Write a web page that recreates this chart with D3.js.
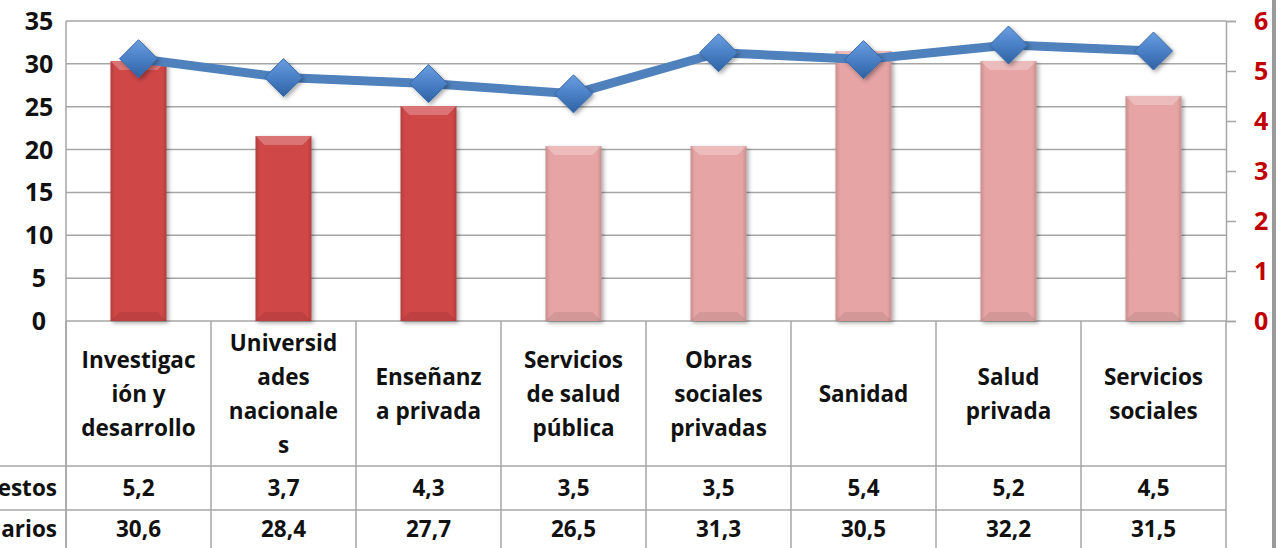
<!DOCTYPE html>
<html>
<head>
<meta charset="utf-8">
<script src="https://cdn.jsdelivr.net/npm/d3@7"></script>
<style>
  body { margin: 0; background: #fff; overflow: hidden; }
  text { font-family: "Open Sans", Lato, sans-serif; font-weight: 700; }
</style>
</head>
<body>
<svg id="chart" width="1282" height="548"></svg>
<script>
// categories and their wrapped labels
const categories = ["Investigación y desarrollo", "Universidades nacionales", "Enseñanza privada",
  "Servicios de salud pública", "Obras sociales privadas", "Sanidad", "Salud privada", "Servicios sociales"];
const categoryLines = [
  ["Investigac", "ión y", "desarrollo"],
  ["Universid", "ades", "nacionale", "s"],
  ["Enseñanz", "a privada"],
  ["Servicios", "de salud", "pública"],
  ["Obras", "sociales", "privadas"],
  ["Sanidad"],
  ["Salud", "privada"],
  ["Servicios", "sociales"]
];
const puestos = [5.2, 3.7, 4.3, 3.5, 3.5, 5.4, 5.2, 4.5];
const salarios = [30.6, 28.4, 27.7, 26.5, 31.3, 30.5, 32.2, 31.5];
const darkBar = [true, true, true, false, false, false, false, false];
const leftTicks = [0, 5, 10, 15, 20, 25, 30, 35];
const rightTicks = [0, 1, 2, 3, 4, 5, 6];
const rowNames = ["Puestos", "Salarios"];

const svg = d3.select("#chart");
const margin = { left: 66, right: 56, top: 21 };
const plotBottom = 321;
const width = 1282, height = 548;

const x = d3.scaleBand().domain(categories).range([margin.left, width - margin.right]);
const yLeft = d3.scaleLinear().domain([0, 35]).range([plotBottom, margin.top]);
const yRight = d3.scaleLinear().domain([0, 6]).range([plotBottom, margin.top]);

const grid = "#a6a6a6";

// defs
const defs = svg.append("defs");
const shadow = defs.append("filter").attr("id", "shadow").attr("x", "-20%").attr("y", "-20%").attr("width", "150%").attr("height", "150%");
shadow.append("feDropShadow").attr("dx", 2).attr("dy", 2).attr("stdDeviation", 2).attr("flood-color", "#000").attr("flood-opacity", 0.35);

function barGrad(id, c) {
  const g = defs.append("linearGradient").attr("id", id).attr("x1", 0).attr("x2", 1).attr("y1", 0).attr("y2", 0);
  g.append("stop").attr("offset", "0%").attr("stop-color", d3.color(c).darker(0.4));
  g.append("stop").attr("offset", "8%").attr("stop-color", c);
  g.append("stop").attr("offset", "92%").attr("stop-color", c);
  g.append("stop").attr("offset", "100%").attr("stop-color", d3.color(c).darker(0.4));
}
barGrad("gDark", "#cf4747");
barGrad("gLight", "#e6a4a4");

const dg = defs.append("linearGradient").attr("id", "gDiamond").attr("x1", 0).attr("x2", 0).attr("y1", 0).attr("y2", 1);
dg.append("stop").attr("offset", "0%").attr("stop-color", "#6a9ee0");
dg.append("stop").attr("offset", "50%").attr("stop-color", "#4a80c6");
dg.append("stop").attr("offset", "100%").attr("stop-color", "#2f62a3");

// gridlines (left axis)
svg.append("g").selectAll("line").data(leftTicks).join("line")
  .attr("x1", margin.left).attr("x2", width - margin.right)
  .attr("y1", d => yLeft(d)).attr("y2", d => yLeft(d))
  .attr("stroke", grid).attr("stroke-width", 1.5);

// left axis line
svg.append("line").attr("x1", margin.left).attr("x2", margin.left)
  .attr("y1", margin.top).attr("y2", height).attr("stroke", grid).attr("stroke-width", 1.5);

// left axis labels
svg.append("g").selectAll("text").data(leftTicks).join("text")
  .attr("x", 39).attr("y", d => yLeft(d)).attr("dy", "0.36em")
  .attr("text-anchor", "middle").attr("font-size", 25).attr("fill", "#111")
  .text(d => d);

// right axis
const rAxis = svg.append("g").attr("transform", `translate(${width - margin.right},0)`)
  .call(d3.axisRight(yRight).tickValues(rightTicks).tickFormat(d3.format("d")).tickSize(10).tickPadding(18));
rAxis.select(".domain").attr("stroke", grid).attr("stroke-width", 1.5);
rAxis.selectAll(".tick line").attr("stroke", grid).attr("stroke-width", 1.5);
rAxis.selectAll(".tick text").attr("font-size", 25).attr("fill", "#c00000")
  .attr("font-family", "'Open Sans', sans-serif").attr("font-weight", 700);

// bars (right axis)
const bw = 56;
const bars = svg.append("g").selectAll("g").data(categories).join("g")
  .attr("filter", "url(#shadow)");
bars.append("rect")
  .attr("x", d => x(d) + x.bandwidth() / 2 - bw / 2)
  .attr("y", (d, i) => yRight(puestos[i]))
  .attr("width", bw)
  .attr("height", (d, i) => plotBottom - yRight(puestos[i]))
  .attr("fill", (d, i) => darkBar[i] ? "url(#gDark)" : "url(#gLight)");
// top bevel
bars.append("path")
  .attr("d", (d, i) => {
    const x0 = x(d) + x.bandwidth() / 2 - bw / 2, x1 = x0 + bw, y0 = yRight(puestos[i]), b = 9;
    return `M${x0},${y0}L${x1},${y0}L${x1 - b},${y0 + b}L${x0 + b},${y0 + b}Z`;
  })
  .attr("fill", "#fff").attr("opacity", 0.25);
// bottom bevel
bars.append("path")
  .attr("d", (d, i) => {
    const x0 = x(d) + x.bandwidth() / 2 - bw / 2, x1 = x0 + bw, y0 = plotBottom, b = 9;
    return `M${x0},${y0}L${x1},${y0}L${x1 - b},${y0 - b}L${x0 + b},${y0 - b}Z`;
  })
  .attr("fill", "#000").attr("opacity", 0.08);

// line (left axis)
const line = d3.line().x((d, i) => x(categories[i]) + x.bandwidth() / 2).y(d => yLeft(d));
svg.append("path").datum(salarios).attr("d", line)
  .attr("fill", "none").attr("stroke", "#4f81bd").attr("stroke-width", 9)
  .attr("stroke-linejoin", "round");

const ds = 19;
svg.append("g").selectAll("path").data(salarios).join("path")
  .attr("transform", (d, i) => `translate(${x(categories[i]) + x.bandwidth() / 2},${yLeft(d)})`)
  .attr("d", `M0,${-ds}L${ds},0L0,${ds}L${-ds},0Z`)
  .attr("fill", "url(#gDiamond)").attr("stroke", "#3a6aa8").attr("stroke-width", 1)
  .attr("filter", "url(#shadow)");

// data table
const headerBottom = 466, row1Bottom = 510;
const tbl = svg.append("g");
// vertical lines
const xEdges = categories.map(c => x(c)).concat([width - margin.right]);
tbl.selectAll("line.v").data(xEdges).join("line").attr("class", "v")
  .attr("x1", d => d).attr("x2", d => d).attr("y1", plotBottom).attr("y2", height)
  .attr("stroke", grid).attr("stroke-width", 1.5);
// horizontal lines
tbl.selectAll("line.h").data([headerBottom, row1Bottom]).join("line").attr("class", "h")
  .attr("x1", 0).attr("x2", width - margin.right).attr("y1", d => d).attr("y2", d => d)
  .attr("stroke", grid).attr("stroke-width", 1.5);

// category headers
const lh = 34;
const fs = 22.5;
const hc = (plotBottom + headerBottom) / 2;
tbl.selectAll("text.cat").data(categories).join("text").attr("class", "cat")
  .attr("text-anchor", "middle").attr("font-size", fs).attr("fill", "#111")
  .each(function (d, i) {
    const lines = categoryLines[i];
    const t = d3.select(this);
    lines.forEach((l, j) => {
      t.append("tspan").attr("x", x(d) + x.bandwidth() / 2)
        .attr("y", hc + (j - (lines.length - 1) / 2) * lh).attr("dy", "0.36em").text(l);
    });
  });

// rows
const rowY = [(headerBottom + row1Bottom) / 2, row1Bottom + 19];
const rows = [puestos, salarios];
rows.forEach((vals, r) => {
  tbl.append("text").attr("x", 57).attr("y", rowY[r]).attr("dy", "0.36em")
    .attr("text-anchor", "end").attr("font-size", fs).attr("fill", "#111").text(rowNames[r]);
  tbl.selectAll(null).data(vals).join("text")
    .attr("x", (d, i) => x(categories[i]) + x.bandwidth() / 2).attr("y", rowY[r]).attr("dy", "0.36em")
    .attr("text-anchor", "middle").attr("font-size", fs).attr("fill", "#111")
    .text(d => String(d.toFixed(1)).replace(".", ","));
});

// right border of frame
svg.append("rect").attr("x", 1272).attr("y", 0).attr("width", 4).attr("height", height).attr("fill", "#9a9a9a");
</script>
</body>
</html>
